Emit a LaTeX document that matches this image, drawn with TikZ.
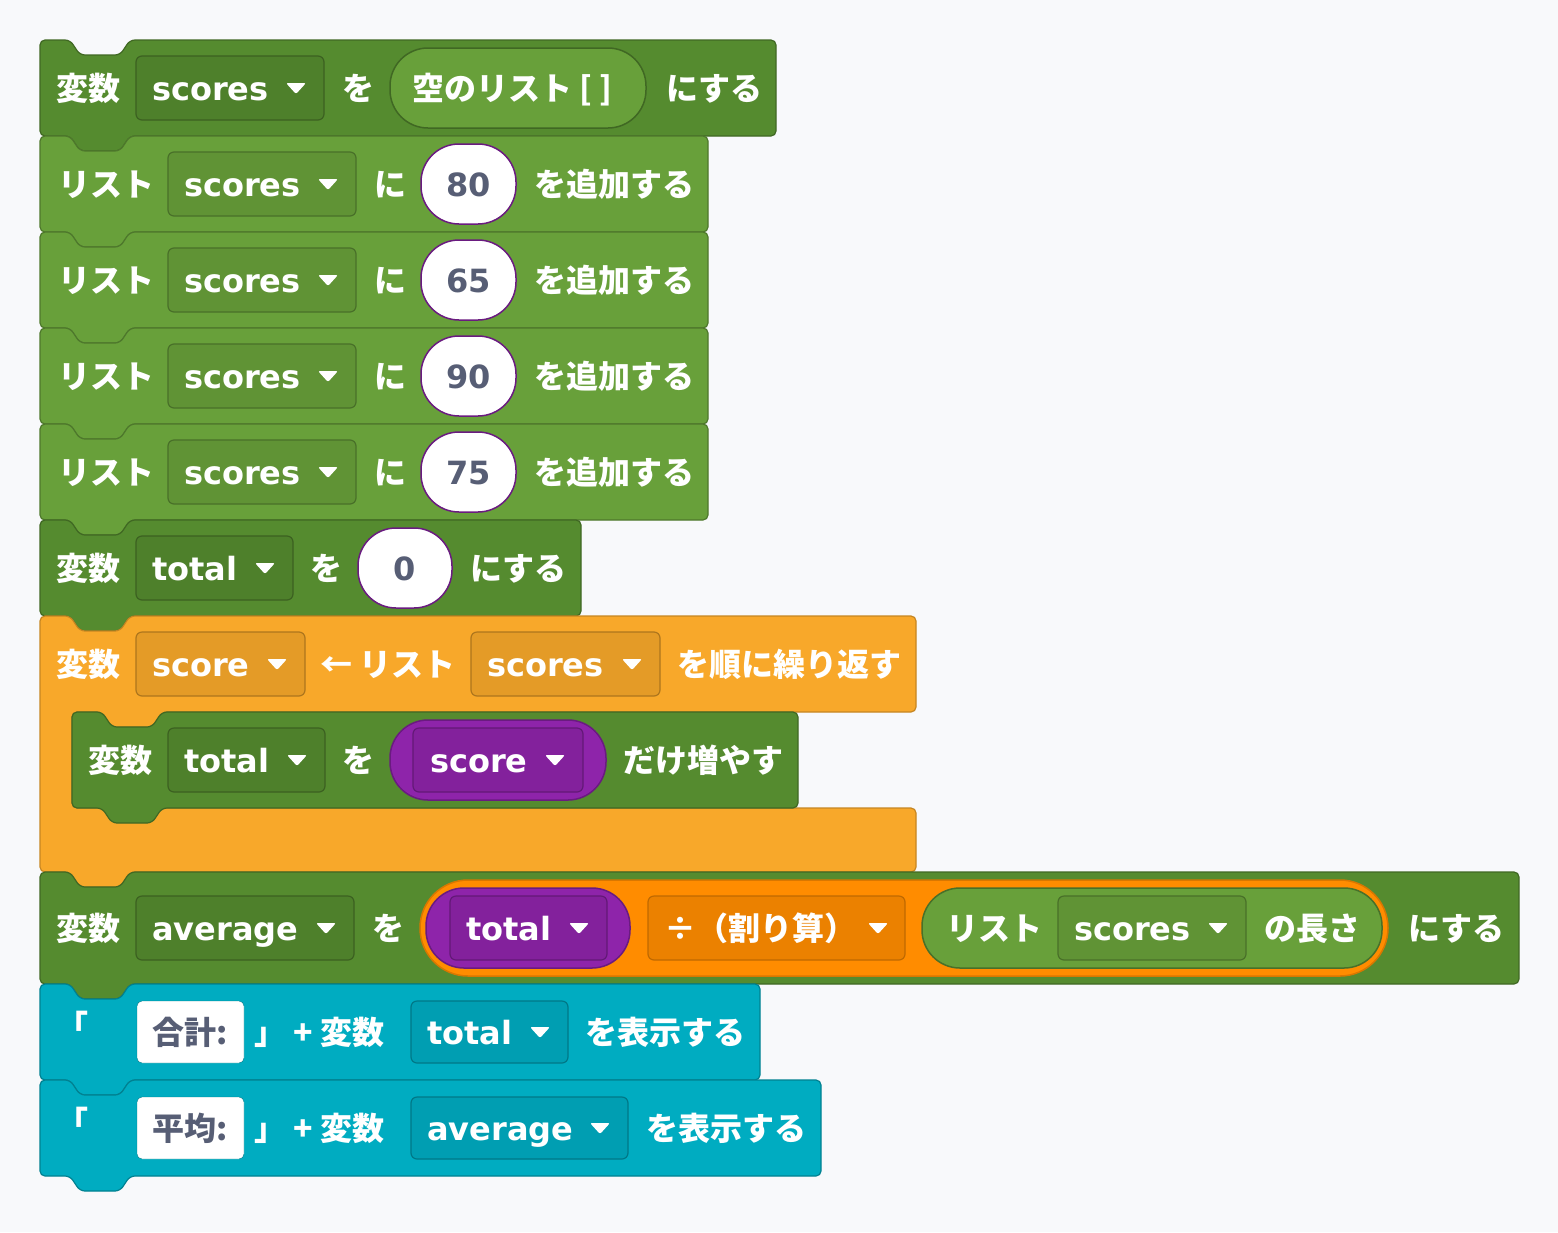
\documentclass[tikz,border=0pt]{standalone}
\usepackage{fontspec}
\setmainfont{DejaVu Sans}
\newfontfamily\jp{Noto Sans CJK JP}
\definecolor{bg}{HTML}{F8F9FB}
\definecolor{dg}{HTML}{558B2F}
\definecolor{lg}{HTML}{68A03A}
\definecolor{org}{HTML}{F8A82A}
\definecolor{cy}{HTML}{00ACC1}
\definecolor{pu}{HTML}{8E24AA}
\definecolor{op}{HTML}{FF8C00}
\definecolor{tx}{HTML}{575E75}
\tikzset{t/.style={anchor=base west,inner sep=0,text=white,font=\fontsize{32}{32}\selectfont\bfseries},
 j/.style={t,font=\fontsize{32}{32}\selectfont\jp\bfseries}}
\newcommand\blk[5]{\filldraw[fill=#1,draw=#1!75!black,line width=1.2,rounded corners=5] (#2,#3)--({#2+30},#3)--({#2+40},{#3+15})--({#2+80},{#3+15})--({#2+90},#3)--(#4,#3)--(#4,#5)--({#2+90},#5)--({#2+80},{#5+15})--({#2+40},{#5+15})--({#2+30},#5)--(#2,#5)--cycle;}
\newcommand\tri[2]{\fill[white,rounded corners=2] ({#1-10},{#2-5})--({#1+10},{#2-5})--(#1,{#2+6})--cycle;}
\newcommand\dd[7]{\filldraw[fill=#1!92!black,draw=#1!70!black,rounded corners=6,line width=1.2] (#2,#3) rectangle (#4,#5);
 \node[t] at (#6,{(#3+#5)/2+12}) {#7}; \tri{#4-28}{(#3+#5)/2}}
\newcommand\ov[6]{\filldraw[fill=#1,draw=#2,line width=1.5,rounded corners=38] (#3,#4) rectangle (#5,#6);}
\newcommand\J[3]{\node[j] at (#1,{#2+12}) {#3};}
\newcommand\num[4]{\filldraw[fill=white,draw=pu!75!black,line width=1.5,rounded corners=38] (#1,#2) rectangle (#3,{#2+80}); \node[t,anchor=base,text=tx] at ({(#1+#3)/2},{#2+52}) {#4};}
\begin{document}
\begin{tikzpicture}[x=1pt,y=-1pt]
\fill[bg] (0,0) rectangle (1558,1232);
\useasboundingbox (0,0) rectangle (1558,1232);
% row1
\blk{dg}{40}{40}{776}{136}
\J{56}{88}{変数}
\dd{dg}{136}{56}{324}{120}{152}{scores}
\J{342}{88}{を}
\ov{lg}{dg!75!black}{390}{48}{646}{128}
\J{412}{88}{空のリスト [ ]}
\J{666}{88}{にする}
% list rows
\foreach \y/\n in {136/80,232/65,328/90,424/75}{
 \blk{lg}{40}{\y}{708}{\y+96}
 \J{58}{\y+48}{リスト}
 \dd{lg}{168}{\y+16}{356}{\y+80}{184}{scores}
 \J{374}{\y+48}{に}
 \num{421}{\y+8}{516}{\n}
 \J{534}{\y+48}{を追加する}
}
% row6
\blk{dg}{40}{520}{581}{616}
\J{56}{568}{変数}
\dd{dg}{136}{536}{293}{600}{152}{total}
\J{310}{568}{を}
\num{358}{528}{452}{0}
\J{470}{568}{にする}
% C block
\filldraw[fill=org,draw=org!80!black,line width=1.2,rounded corners=5] (40,616)--(70,616)--(80,631)--(120,631)--(130,616)--(916,616)--(916,712)--(162,712)--(152,727)--(112,727)--(102,712)--(72,712)--(72,808)--(916,808)--(916,872)--(130,872)--(120,887)--(80,887)--(70,872)--(40,872)--cycle;
\J{56}{664}{変数}
\dd{org}{136}{632}{305}{696}{152}{score}
\J{320}{664}{← リスト}
\dd{org}{471}{632}{660}{696}{487}{scores}
\J{677}{664}{を順に繰り返す}
\blk{dg}{72}{712}{798}{808}
\J{88}{760}{変数}
\dd{dg}{168}{728}{325}{792}{184}{total}
\J{342}{760}{を}
\ov{pu}{pu!75!black}{390}{720}{606}{800}
\dd{pu}{413}{728}{583}{792}{430}{score}
\J{623}{760}{だけ増やす}
% average
\blk{dg}{40}{872}{1519}{984}
\J{56}{928}{変数}
\dd{dg}{136}{896}{354}{960}{152}{average}
\J{372}{928}{を}
\filldraw[fill=op,draw=op!85!black,line width=1.5,rounded corners=48] (420,880) rectangle (1388,976);
\ov{pu}{pu!75!black}{426}{888}{630}{968}
\dd{pu}{450}{896}{607}{960}{466}{total}
\filldraw[fill=op!92!black,draw=op!75!black,rounded corners=6,line width=1.2] (648,896) rectangle (905,960);
\J{664}{928}{÷（割り算）}
\tri{878}{928}
\ov{lg}{lg!70!black}{922}{888}{1382}{968}
\J{946}{928}{リスト}
\dd{lg}{1058}{896}{1246}{960}{1074}{scores}
\J{1264}{928}{の長さ}
\J{1408}{928}{にする}
% print
\blk{cy}{40}{984}{760}{1080}
\blk{cy}{40}{1080}{821}{1176}
\foreach \y/\w/\v/\e/\r in {984/合計:/total/568/585,1080/平均:/average/628/646}{
 \J{56}{\y+42}{「}
 \filldraw[fill=white,draw=cy!70!black,rounded corners=5] (137,\y+17) rectangle (244,\y+79);
 \node[j,text=tx] at (152,\y+60) {\w};
 \J{254}{\y+48}{」 + 変数}
 \dd{cy}{411}{\y+17}{\e}{\y+79}{427}{\v}
 \J{\r}{\y+48}{を表示する}
}
\end{tikzpicture}
\end{document}
